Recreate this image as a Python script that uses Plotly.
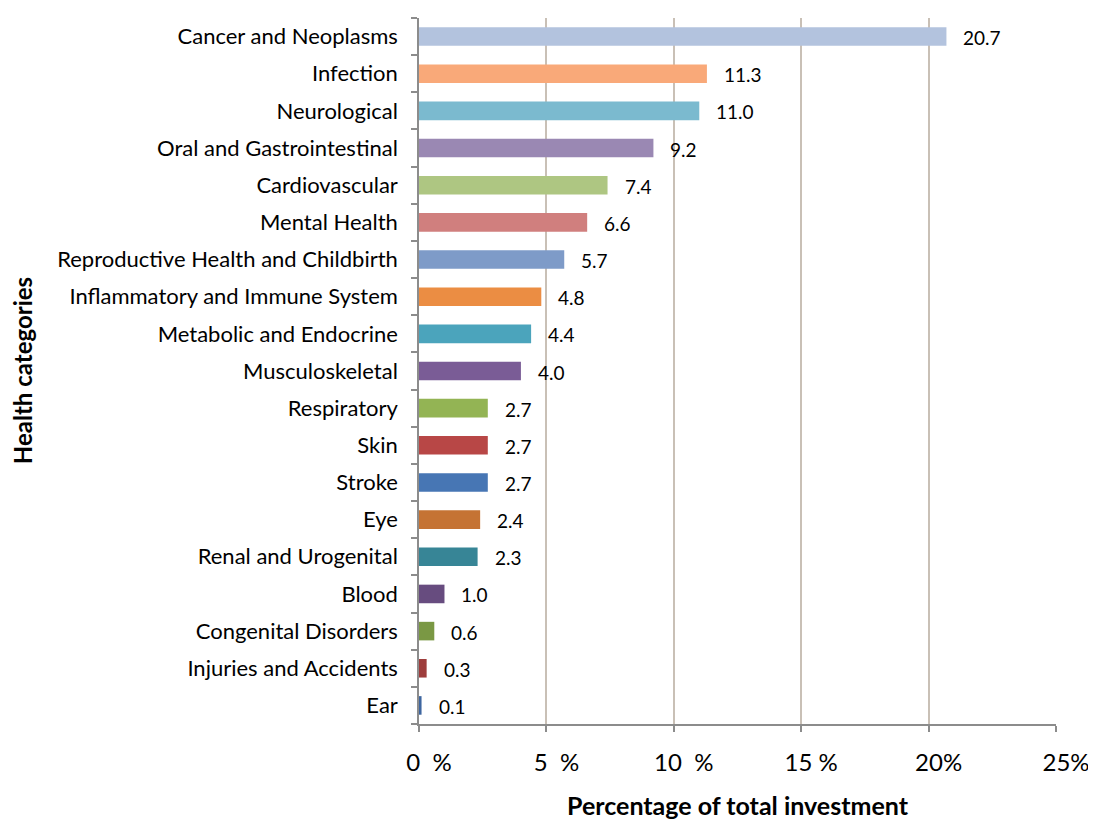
import plotly.graph_objects as go

categories = ["Cancer and Neoplasms", "Infection", "Neurological", "Oral and Gastrointestinal",
              "Cardiovascular", "Mental Health", "Reproductive Health and Childbirth",
              "Inflammatory and Immune System", "Metabolic and Endocrine", "Musculoskeletal",
              "Respiratory", "Skin", "Stroke", "Eye", "Renal and Urogenital", "Blood",
              "Congenital Disorders", "Injuries and Accidents", "Ear"]
values = [20.7, 11.3, 11.0, 9.2, 7.4, 6.6, 5.7, 4.8, 4.4, 4.0, 2.7, 2.7, 2.7, 2.4, 2.3, 1.0, 0.6, 0.3, 0.1]
labels = ["20.7", "11.3", "11.0", "9.2", "7.4", "6.6", "5.7", "4.8", "4.4", "4.0",
          "2.7", "2.7", "2.7", "2.4", "2.3", "1.0", "0.6", "0.3", "0.1"]
colors = ["#B3C3DE", "#F9A979", "#7BBACF", "#9A88B3", "#AEC682", "#D07F7E", "#7E9BC8",
          "#EB8D43", "#4BA4BC", "#7A5C96", "#93B454", "#B84746", "#4776B4", "#C57334",
          "#378596", "#674C7F", "#7A9844", "#9E3D3C", "#3E66A0"]
tick_vals = [0, 5, 10, 15, 20, 25]
tick_text = ["0  %", "5  %", "10  %", "15 %", "20%", "25%"]

FONT = "Lato"

fig = go.Figure()
fig.add_trace(go.Bar(
    x=values, y=categories, orientation="h",
    marker=dict(color=colors, line=dict(width=0)),
    width=0.5, hoverinfo="x+y",
))

for v, c, t in zip(values, categories, labels):
    fig.add_annotation(x=v, y=c, text=t, showarrow=False, xanchor="left",
                       xshift=15, yshift=-1, font=dict(family=FONT, size=19, color="#000000"))

fig.add_annotation(text="<b>Health categories</b>", xref="paper", yref="paper",
                   x=-0.623, y=0.5, textangle=-90, showarrow=False,
                   xanchor="center", yanchor="middle",
                   font=dict(family=FONT, size=24, color="#000000"))
fig.add_annotation(text="<b>Percentage of total investment</b>", xref="paper", yref="paper",
                   x=0.5, y=-0.115, showarrow=False, xanchor="center", yanchor="middle",
                   font=dict(family=FONT, size=25, color="#000000"))

fig.update_layout(
    width=1088, height=813,
    margin=dict(l=411, r=40, t=10, b=97, autoexpand=False),
    paper_bgcolor="white", plot_bgcolor="white",
    showlegend=False,
    font=dict(family=FONT, color="#000000"),
)
fig.update_xaxes(
    range=[0, 25], tickvals=tick_vals, ticktext=tick_text,
    tickfont=dict(family=FONT, size=24), automargin=False,
    ticklabelshift=10, ticklabelstandoff=10,
    showgrid=True, gridcolor="#C9C0B6", gridwidth=1.5,
    showline=True, linecolor="#8C8C8C", linewidth=1.5,
    ticks="outside", ticklen=6, tickcolor="#8C8C8C", tickwidth=1.5,
    zeroline=False,
)
fig.update_yaxes(
    categoryorder="array", categoryarray=categories[::-1],
    tickfont=dict(family=FONT, size=22), automargin=False,
    ticklabelstandoff=15,
    showline=True, linecolor="#8C8C8C", linewidth=1.5,
    ticks="outside", ticklen=6, tickcolor="#8C8C8C", tickwidth=1.5,
    tickson="boundaries", showgrid=False,
)

fig.write_html("out.html")
